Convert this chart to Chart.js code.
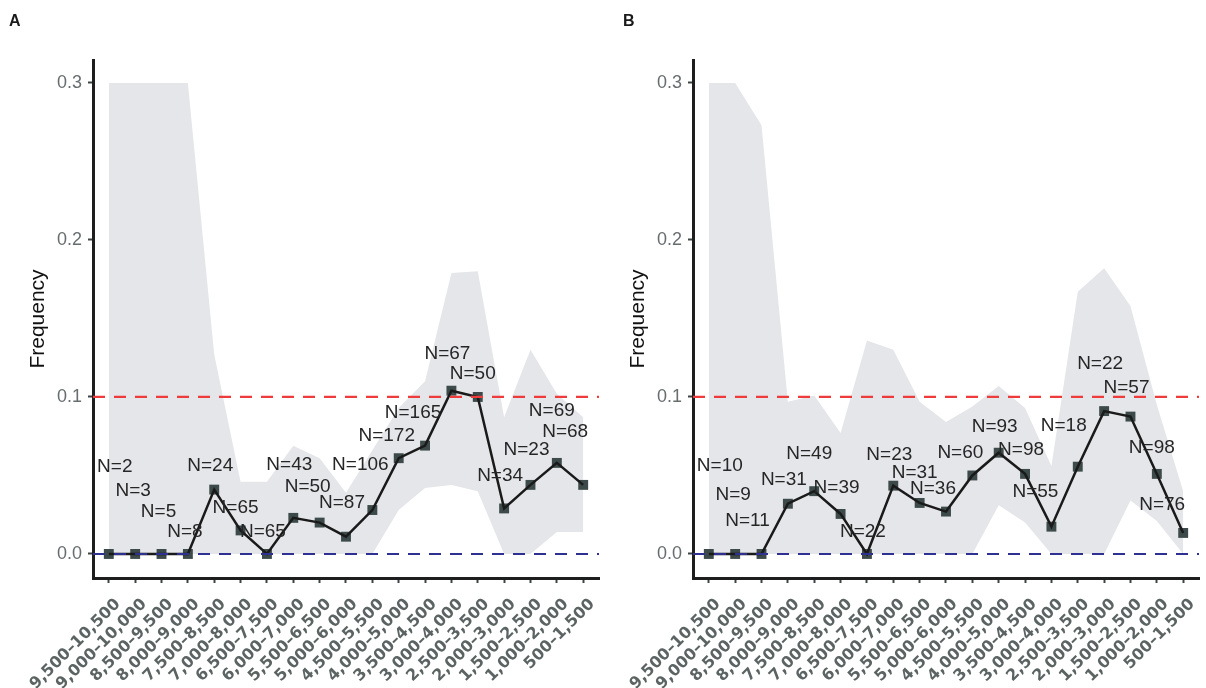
<!DOCTYPE html>
<html><head><meta charset="utf-8">
<script src="https://cdn.jsdelivr.net/npm/chart.js@4/dist/chart.umd.min.js"></script>
<style>
body{margin:0;background:#fff;width:1206px;height:688px;overflow:hidden;position:relative}
.wrap{position:absolute;top:0;width:606px;height:688px}
</style></head><body>
<div class="wrap" style="left:0"><canvas id="cA" width="606" height="688"></canvas></div>
<div class="wrap" style="left:600px"><canvas id="cB" width="606" height="688"></canvas></div>
<script>
const categories = ["9,500–10,500","9,000–10,000","8,500–9,500","8,000–9,000","7,500–8,500","7,000–8,000","6,500–7,500","6,000–7,000","5,500–6,500","5,000–6,000","4,500–5,500","4,000–5,000","3,500–4,500","3,000–4,000","2,500–3,500","2,000–3,000","1,500–2,500","1,000–2,000","500–1,500"];
const yTicks = [0, 0.1, 0.2, 0.3];
const refHigh = 0.1;
const refLow = 0.0;

const freqA  = [0,0,0,0,0.041,0.015,0,0.023,0.020,0.011,0.028,0.061,0.069,0.104,0.100,0.029,0.044,0.058,0.044];
const upperA = [0.3,0.3,0.3,0.3,0.127,0.046,0.046,0.069,0.061,0.039,0.066,0.093,0.110,0.179,0.180,0.087,0.130,0.102,0.087];
const lowerA = [0,0,0,0,0,0,0,0,0,0,0,0.028,0.042,0.044,0.040,0,0,0.014,0.014];
const nA     = [2,3,5,8,24,65,65,43,50,87,106,172,165,67,50,34,23,69,68];

const freqB  = [0,0,0,0.032,0.040,0.0255,0,0.0435,0.0325,0.027,0.050,0.0645,0.051,0.0174,0.0556,0.091,0.0875,0.051,0.0134];
const upperB = [0.3,0.3,0.273,0.097,0.101,0.077,0.136,0.130,0.097,0.084,0.094,0.107,0.093,0.056,0.167,0.182,0.158,0.095,0.040];
const lowerB = [0,0,0,0,0,0,0,0,0,0,0,0.031,0.020,0,0,0,0.034,0.021,0];
const nB     = [10,9,11,31,49,39,22,23,31,36,60,93,98,55,18,22,57,98,76];

// label placement (pixel offsets from each point), layout only
const offA = [[6,-87],[-2,-63],[-3,-42],[-3,-22],[-4,-24],[-5,-23],[-4,-22],[-4,-53],[-12,-36],[-4,-34],[-12,-45],[-12,-22],[-12,-33],[-4,-37],[-5,-23],[-4,-33],[-4,-35],[-5,-52],[-18,-53]];
const offB = [[11,-88],[-2,-59],[-14,-33],[-4,-24],[-5,-37],[-4,-26],[-4,-22],[-4,-31],[-5,-30],[-13,-23],[-12,-23],[-4,-26],[-4,-24],[-16,-35],[-14,-41],[-4,-47],[-4,-29],[-5,-26],[-21,-28]];

Chart.defaults.font.family = '"Liberation Sans", Arial, sans-serif';

const XMIN = -0.6, XMAX = categories.length - 1 + 0.6;
const pts = arr => arr.map((v,i)=>({x:i,y:v}));
const hline = v => [{x:XMIN,y:v},{x:XMAX,y:v}];

function makeChart(id, letter, letterX, freq, upper, lower, nvals, offs){
  const annot = {
    id:'annot'+id,
    afterDatasetsDraw(chart){
      const ctx = chart.ctx;
      const meta = chart.getDatasetMeta(2);
      ctx.save();
      ctx.font = '19px "Liberation Sans", Arial, sans-serif';
      ctx.fillStyle = '#262626';
      ctx.textAlign = 'center';
      ctx.textBaseline = 'middle';
      meta.data.forEach((p,i)=>{
        ctx.fillText('N=' + nvals[i], p.x + offs[i][0], p.y + offs[i][1]);
      });
      ctx.font = 'bold 16px "Liberation Sans", Arial, sans-serif';
      ctx.fillStyle = '#1a1a1a';
      ctx.textAlign = 'left';
      ctx.fillText(letter, letterX, 22);
      ctx.restore();
    }
  };
  const gridOpts = {drawOnChartArea:false, drawTicks:true, tickLength:5, tickColor:'#3c4444', tickWidth:2};
  const borderOpts = {display:true, color:'#1e1e1e', width:3};
  return new Chart(document.getElementById(id), {
    type:'line',
    data:{datasets:[
      {data:pts(upper), fill:'+1', backgroundColor:'#E5E6EA', borderWidth:0, pointRadius:0, order:5},
      {data:pts(lower), fill:false, borderWidth:0, pointRadius:0, order:5},
      {data:pts(freq), showLine:false, pointStyle:'rect', pointRadius:7, pointBackgroundColor:'#3d4a4a', pointBorderWidth:0, order:4},
      {data:pts(freq), borderColor:'#1a1a1a', borderWidth:2.5, pointRadius:0, fill:false, tension:0, order:3},
      {data:hline(refHigh), borderColor:'#EE3B3B', borderWidth:2.2, borderDash:[12,9], pointRadius:0, fill:false, order:1},
      {data:hline(refLow), borderColor:'#2E3192', borderWidth:2.2, borderDash:[12,9], pointRadius:0, fill:false, order:1}
    ]},
    options:{
      responsive:false, animation:false,
      layout:{padding:{top:60,right:3,left:0,bottom:0}},
      plugins:{legend:{display:false}, tooltip:{enabled:false}},
      scales:{
        x:{type:'linear', min:XMIN, max:XMAX,
          afterBuildTicks:s=>{ s.ticks = categories.map((_,i)=>({value:i})); },
          afterFit:s=>{ s.height = 110; s.paddingLeft = 0; s.paddingRight = 0; },
          ticks:{autoSkip:false, minRotation:45, maxRotation:45, padding:12, labelOffset:9,
            callback:v=>categories[v],
            font:{family:'"DejaVu Sans", sans-serif', weight:'bold', size:16}, color:'#5b6363'},
          grid:gridOpts, border:borderOpts},
        y:{type:'linear', min:-0.0153, max:0.3146,
          afterBuildTicks:s=>{ s.ticks = yTicks.map(v=>({value:v})); },
          afterFit:s=>{ s.width = 93; s.paddingTop = 0; s.paddingBottom = 0; },
          ticks:{callback:v=>v.toFixed(1), font:{size:18}, color:'#676d6f', padding:6},
          grid:gridOpts, border:borderOpts,
          title:{display:true, text:'Frequency', color:'#111', font:{size:21}, padding:{top:26,bottom:0}}}
      }
    },
    plugins:[annot]
  });
}

makeChart('cA','A',9,freqA,upperA,lowerA,nA,offA);
makeChart('cB','B',23,freqB,upperB,lowerB,nB,offB);
</script>
</body></html>
